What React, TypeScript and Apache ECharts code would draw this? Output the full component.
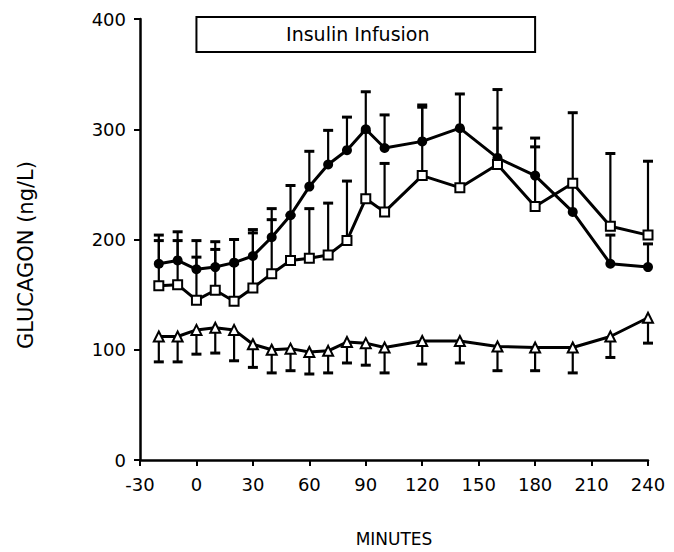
import React, { useEffect, useRef } from "react";
import * as echarts from "echarts";

const minutes = [-20, -10, 0, 10, 20, 30, 40, 50, 60, 70, 80, 90, 100, 120, 140, 160, 180, 200, 220, 240];
const circleMean = [178, 181, 173, 175, 179, 185, 202, 222, 248, 268, 281, 300, 283, 289, 301, 274, 258, 225, 178, 175];
const circleUpper = [204, 207, 199, 198, 200, 209, 228, 249, 280, 299, 311, 334, 313, 322, 332, 336, 292, 250, 204, 196];
const squareMean = [158, 159, 145, 154, 144, 156, 169, 181, 183, 186, 199, 237, 225, 258, 247, 268, 230, 251, 212, 204];
const squareUpper = [199, 199, 184, 191, 178, 206, 218, 222, 228, 233, 253, 298, 269, 320, 300, 301, 284, 315, 278, 271];
const triMean = [112, 112, 118, 120, 118, 105, 100, 101, 98, 99, 107, 106, 102, 108, 108, 103, 102, 102, 112, 129];
const triLower = [89, 89, 96, 97, 90, 84, 79, 81, 78, 79, 88, 86, 79, 87, 88, 81, 81, 79, 93, 106];
const infusion = [0, 180];
const infusionLabel = "Insulin Infusion";
const yTitle = "GLUCAGON (ng/L)";
const xTitle = "MINUTES";

const FONT = "'DejaVu Sans', Verdana, sans-serif";

function errSeries(mean: number[], end: number[]) {
  return {
    type: "custom",
    silent: true,
    z: 1,
    data: minutes.map((m, i) => [m, mean[i], end[i]]),
    renderItem: (_params: any, api: any) => {
      const x = api.value(0);
      const p1 = api.coord([x, api.value(1)]);
      const p2 = api.coord([x, api.value(2)]);
      return {
        type: "group",
        children: [
          { type: "line", shape: { x1: p1[0], y1: p1[1], x2: p2[0], y2: p2[1] }, style: { stroke: "#000", lineWidth: 2.2 } },
          { type: "line", shape: { x1: p2[0] - 5, y1: p2[1], x2: p2[0] + 5, y2: p2[1] }, style: { stroke: "#000", lineWidth: 3 } },
        ],
      };
    },
  };
}

function lineSeries(mean: number[], symbol: string, size: number, filled: boolean) {
  return {
    type: "line",
    z: 3,
    data: minutes.map((m, i) => [m, mean[i]]),
    symbol,
    symbolSize: size,
    showAllSymbol: true,
    lineStyle: { color: "#000", width: 3 },
    itemStyle: filled
      ? { color: "#000", borderColor: "#000", borderWidth: 0 }
      : { color: "#fff", borderColor: "#000", borderWidth: 2 },
  };
}

export default function App() {
  const ref = useRef<HTMLDivElement>(null);
  useEffect(() => {
    if (!ref.current) return;
    const chart = echarts.init(ref.current, undefined, { renderer: "svg" });
    const option: any = {
      animation: false,
      backgroundColor: "#fff",
      grid: { left: 140, right: 26, top: 19, bottom: 87, containLabel: false },
      xAxis: {
        type: "value",
        min: -30,
        max: 240,
        interval: 30,
        name: xTitle,
        nameLocation: "middle",
        nameGap: 70,
        nameTextStyle: { fontFamily: FONT, fontSize: 17, color: "#000" },
        axisLine: { onZero: false, lineStyle: { color: "#000", width: 2.5 } },
        axisTick: { length: 6, lineStyle: { color: "#000", width: 2 } },
        axisLabel: { fontFamily: FONT, fontSize: 18, color: "#000", margin: 15 },
        splitLine: { show: false },
      },
      yAxis: {
        type: "value",
        min: 0,
        max: 400,
        interval: 100,
        axisLine: { show: true, onZero: false, lineStyle: { color: "#000", width: 2.5 } },
        axisTick: { show: true, length: 6, lineStyle: { color: "#000", width: 2 } },
        axisLabel: { fontFamily: FONT, fontSize: 18, color: "#000", margin: 14 },
        splitLine: { show: false },
      },
      series: [
        errSeries(circleMean, circleUpper),
        errSeries(squareMean, squareUpper),
        errSeries(triMean, triLower),
        lineSeries(circleMean, "circle", 10, true),
        lineSeries(squareMean, "rect", 9, false),
        lineSeries(triMean, "triangle", 10, false),
      ],
    };
    chart.setOption(option);
    const a = chart.convertToPixel({ gridIndex: 0 }, [infusion[0], 0]) as number[];
    const b = chart.convertToPixel({ gridIndex: 0 }, [infusion[1], 0]) as number[];
    chart.setOption({
      graphic: [
        {
          type: "rect",
          shape: { x: a[0], y: 17, width: b[0] - a[0], height: 35 },
          style: { fill: "#fff", stroke: "#000", lineWidth: 2 },
          z: 10,
        },
        {
          type: "text",
          x: (a[0] + b[0]) / 2 - 8,
          y: 34,
          style: {
            text: infusionLabel,
            fontFamily: FONT,
            fontSize: 19,
            fill: "#000",
            align: "center",
            verticalAlign: "middle",
          },
          z: 11,
        },
        {
          type: "text",
          x: 26,
          y: 255,
          rotation: Math.PI / 2,
          style: {
            text: yTitle,
            fontFamily: FONT,
            fontSize: 21,
            fill: "#000",
            align: "center",
            verticalAlign: "middle",
          },
          z: 11,
        },
      ],
    });
    return () => chart.dispose();
  }, []);
  return <div ref={ref} style={{ width: 674, height: 552, position: "absolute", left: 0, top: 0 }} />;
}
